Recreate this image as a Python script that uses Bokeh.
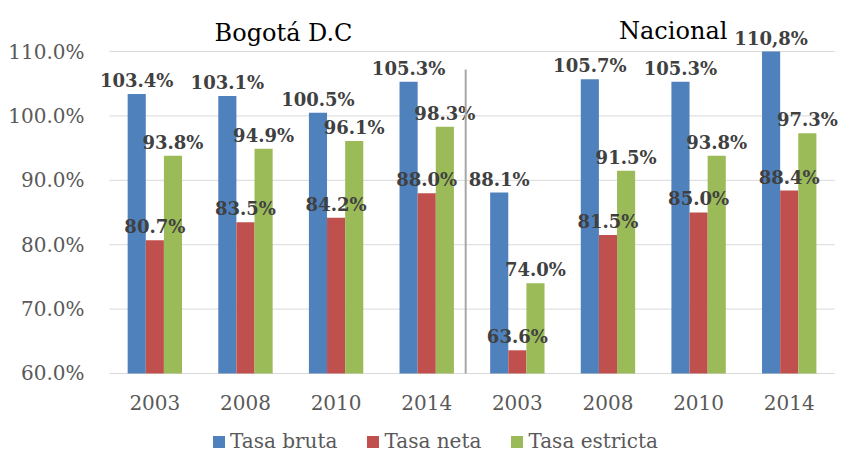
from bokeh.plotting import figure
from bokeh.models import (ColumnDataSource, FixedTicker, PrintfTickFormatter, Range1d,
                          Legend, LegendItem)
from bokeh.core.properties import value
from bokeh.embed import file_html
from bokeh.resources import INLINE

years = ["2003", "2008", "2010", "2014", "2003", "2008", "2010", "2014"]
groups = ["Bogotá D.C", "Nacional"]
tasa_bruta = [103.4, 103.1, 100.5, 105.3, 88.1, 105.7, 105.3, 110.8]
tasa_neta = [80.7, 83.5, 84.2, 88.0, 63.6, 81.5, 85.0, 88.4]
tasa_estricta = [93.8, 94.9, 96.1, 98.3, 74.0, 91.5, 93.8, 97.3]
label_bruta = ["103.4%", "103.1%", "100.5%", "105.3%", "88.1%", "105.7%", "105.3%", "110,8%"]
y_ticks = [60, 70, 80, 90, 100, 110]

Y_MIN, Y_MAX = 60, 110
SERIF = "DejaVu Serif"
LBL = "#404040"
TCK = "#595959"

p = figure(width=845, height=454, output_backend="svg", toolbar_location=None,
           x_range=Range1d(-0.21, 8.121), y_range=Range1d(47.42, 117.92),
           min_border_left=90, min_border_right=0, min_border_top=0, min_border_bottom=0)
p.outline_line_color = None
p.background_fill_color = "white"
p.border_fill_color = "white"

n = len(years)
centers = [i + 0.5 for i in range(n)]
bw = 0.2
series = [
    ("Tasa bruta", tasa_bruta, "#4f81bd", -bw, label_bruta),
    ("Tasa neta", tasa_neta, "#c0504d", 0.0, ["%.1f%%" % v for v in tasa_neta]),
    ("Tasa estricta", tasa_estricta, "#9bbb59", bw, ["%.1f%%" % v for v in tasa_estricta]),
]

# grid lines drawn from tick values
p.xgrid.visible = False
p.ygrid.visible = False
p.segment(x0=[0] * len(y_ticks), x1=[n] * len(y_ticks), y0=y_ticks, y1=y_ticks,
          line_color="#d9d9d9", line_width=1)

items = []
label_sources = []
for name, vals, color, off, labels in series:
    src = ColumnDataSource(dict(x=[c + off for c in centers],
                                top=[min(v, Y_MAX) for v in vals],
                                lab=labels))
    r = p.vbar(x="x", top="top", bottom=Y_MIN, width=bw, source=src,
               fill_color=color, line_color=None)
    items.append(LegendItem(label=name, renderers=[r]))
    label_sources.append(src)

for src in label_sources:
    p.text(x="x", y="top", text="lab", source=src, text_align="center",
           text_baseline="bottom", y_offset=-3, text_font=value(SERIF),
           text_font_style="bold", text_font_size="18px", text_color=LBL)

# separator between the two groups
SEP_X = 3.93
p.segment(x0=[SEP_X], x1=[SEP_X], y0=[Y_MIN], y1=[107.2], line_color="#a6a6a6", line_width=2)

# group titles
p.text(x=[1.92, 6.22], y=[112.8, 113.2], text=groups, text_align="center",
       text_baseline="alphabetic", text_font=value(SERIF), text_font_size="24px",
       text_color="#000000")

# category (year) labels below the bars
p.text(x=centers, y=[55.5] * n, text=years, text_align="center", text_baseline="middle",
       text_font=value(SERIF), text_font_size="20px", text_color=TCK)
p.xaxis.visible = False

# y axis
p.yaxis.ticker = FixedTicker(ticks=y_ticks)
p.yaxis.formatter = PrintfTickFormatter(format="%.1f%%")
p.yaxis.axis_line_color = None
p.yaxis.major_tick_line_color = None
p.yaxis.minor_tick_line_color = None
p.yaxis.major_label_standoff = 0
p.yaxis.major_label_text_font = SERIF
p.yaxis.major_label_text_font_size = "20px"
p.yaxis.major_label_text_color = TCK

legend = Legend(items=items, orientation="horizontal", location=(121, 1))
legend.label_text_font = SERIF
legend.label_text_font_size = "20px"
legend.label_text_color = TCK
legend.glyph_width = 15
legend.glyph_height = 15
legend.label_standoff = 4
legend.spacing = 28
legend.padding = 0
legend.margin = 0
legend.border_line_color = None
legend.background_fill_alpha = 0
p.add_layout(legend)

open("out.html", "w").write(file_html(p, INLINE))
